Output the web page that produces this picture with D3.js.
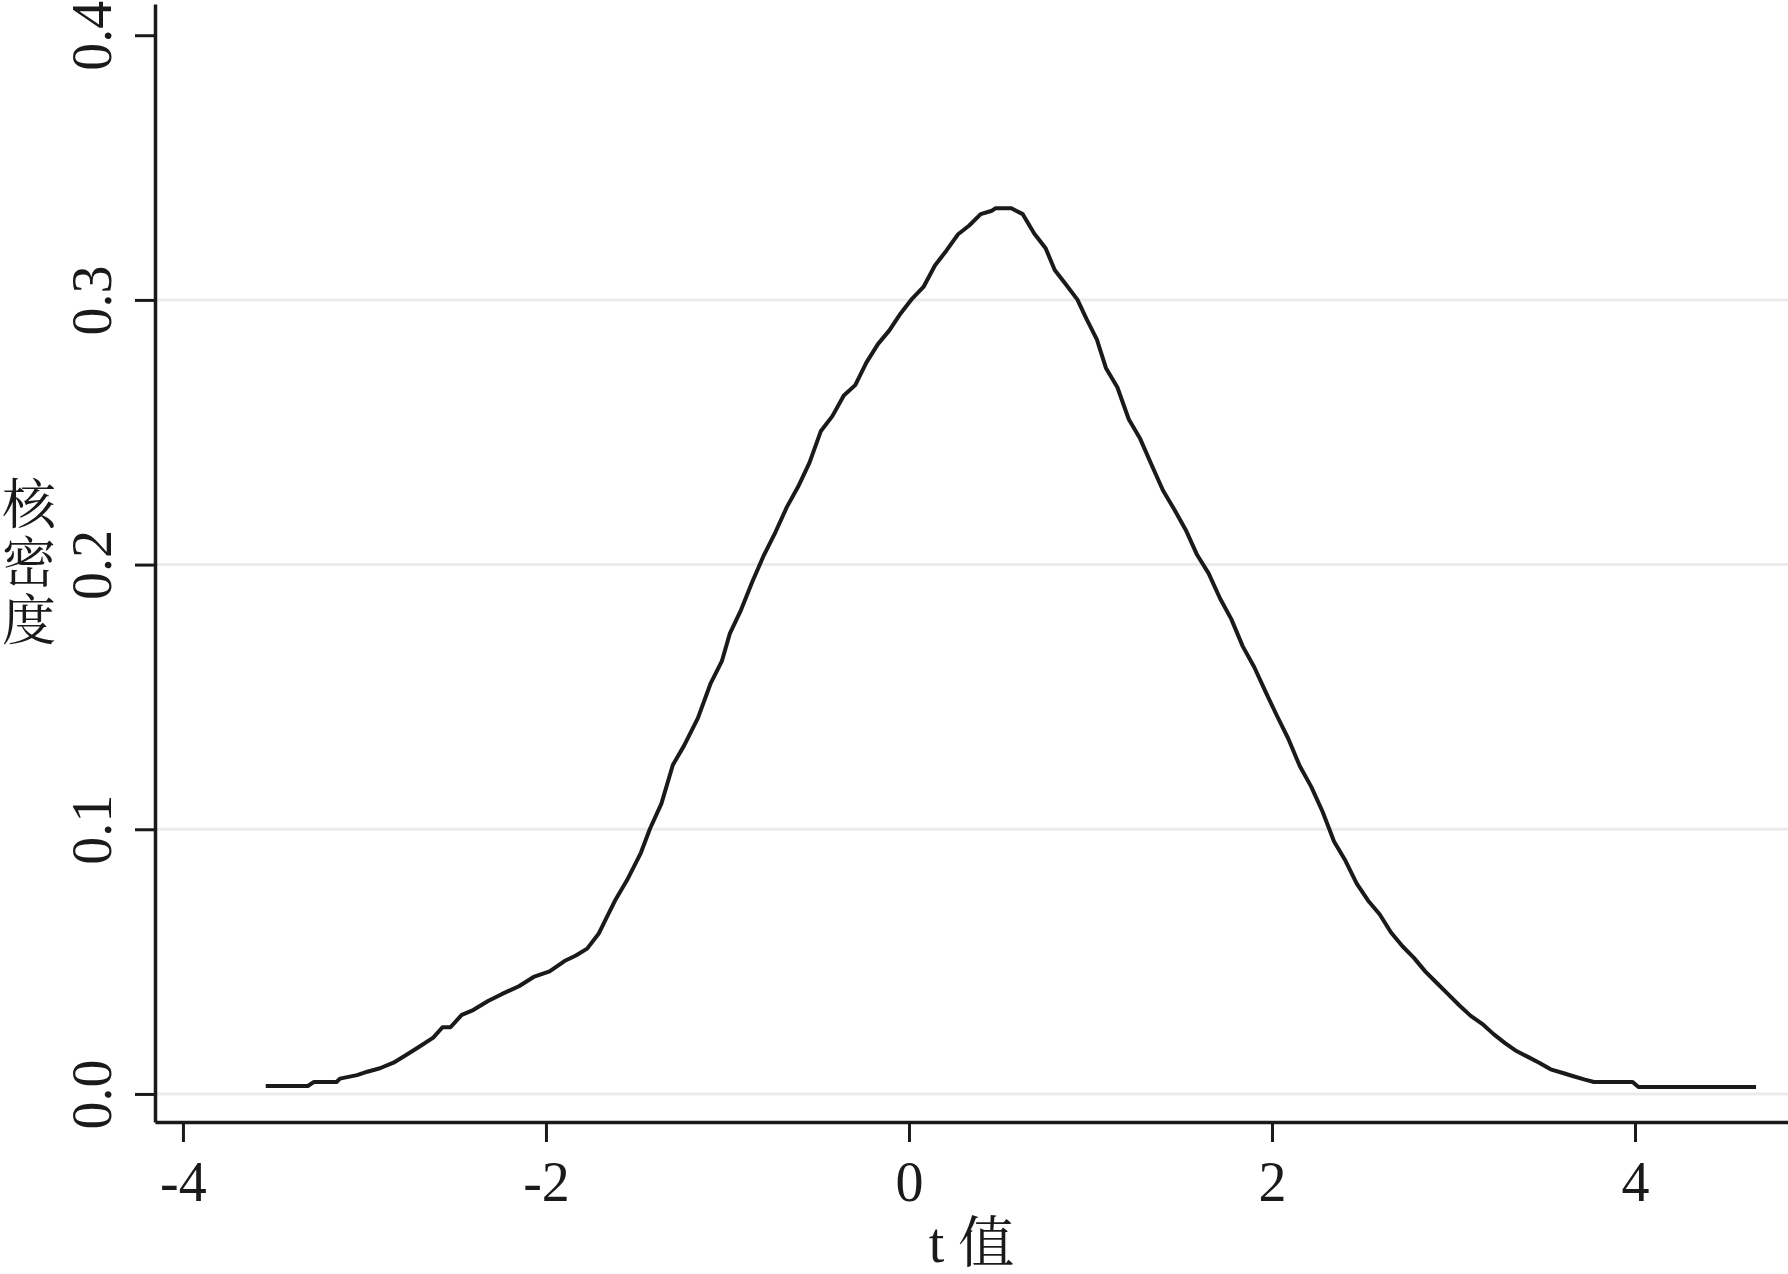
<!DOCTYPE html>
<html>
<head>
<meta charset="utf-8">
<script src="https://cdn.jsdelivr.net/npm/d3@7/dist/d3.min.js"></script>
<style>
  html, body { margin: 0; padding: 0; background: #ffffff; }
  svg { display: block; }
</style>
</head>
<body>
<script>
// ---- data ----
const tValues = [
  -3.544, -3.312, -3.280, -3.154, -3.135, -3.041, -2.984, -2.915, -2.840, -2.777,
  -2.696, -2.621, -2.570, -2.526, -2.464, -2.401, -2.319, -2.244, -2.149, -2.068,
  -1.980, -1.898, -1.835, -1.773, -1.710, -1.666, -1.616, -1.553, -1.477, -1.427,
  -1.364, -1.301, -1.239, -1.163, -1.094, -1.031, -0.987, -0.925, -0.862, -0.799,
  -0.736, -0.673, -0.611, -0.548, -0.485, -0.422, -0.359, -0.296, -0.234, -0.171,
  -0.108, -0.045, 0.018, 0.080, 0.143, 0.206, 0.269, 0.332, 0.395, 0.457,
  0.476, 0.564, 0.627, 0.690, 0.753, 0.803, 0.866, 0.928, 0.978, 1.035,
  1.085, 1.148, 1.211, 1.274, 1.337, 1.399, 1.462, 1.525, 1.588, 1.651,
  1.714, 1.776, 1.839, 1.902, 1.965, 2.028, 2.090, 2.153, 2.216, 2.279,
  2.342, 2.405, 2.467, 2.530, 2.593, 2.656, 2.719, 2.781, 2.844, 2.907,
  2.970, 3.033, 3.095, 3.158, 3.221, 3.284, 3.347, 3.410, 3.472, 3.535,
  3.598, 3.661, 3.724, 3.774, 3.987, 4.019, 4.667
];
const densityValues = [
  0.0030, 0.0030, 0.0045, 0.0045, 0.0058, 0.0071, 0.0084, 0.0097, 0.0118, 0.0144,
  0.0179, 0.0213, 0.0252, 0.0252, 0.0299, 0.0317, 0.0351, 0.0377, 0.0407, 0.0442,
  0.0463, 0.0502, 0.0523, 0.0549, 0.0605, 0.0666, 0.0735, 0.0808, 0.0911, 0.1002,
  0.1097, 0.1243, 0.1316, 0.1420, 0.1549, 0.1635, 0.1739, 0.1829, 0.1937, 0.2036,
  0.2122, 0.2217, 0.2294, 0.2385, 0.2505, 0.2561, 0.2639, 0.2678, 0.2764, 0.2833,
  0.2885, 0.2950, 0.3005, 0.3049, 0.3130, 0.3186, 0.3247, 0.3281, 0.3324, 0.3337,
  0.3346, 0.3346, 0.3324, 0.3251, 0.3195, 0.3113, 0.3057, 0.3001, 0.2928, 0.2851,
  0.2743, 0.2670, 0.2549, 0.2475, 0.2376, 0.2281, 0.2208, 0.2131, 0.2036, 0.1967,
  0.1872, 0.1794, 0.1691, 0.1613, 0.1519, 0.1428, 0.1342, 0.1239, 0.1161, 0.1066,
  0.0954, 0.0881, 0.0795, 0.0730, 0.0679, 0.0610, 0.0558, 0.0515, 0.0463, 0.0420,
  0.0377, 0.0334, 0.0295, 0.0265, 0.0226, 0.0192, 0.0162, 0.0140, 0.0118, 0.0093,
  0.0080, 0.0067, 0.0054, 0.0045, 0.0045, 0.0026, 0.0026
];
const xTicks = [-4, -2, 0, 2, 4];
const yTicks = [0.0, 0.1, 0.2, 0.3, 0.4];
const yGridTicks = [0.0, 0.1, 0.2, 0.3];
const xTitle = "t 值";
const yTitleChars = ["核", "密", "度"];

(function () {
  // ---- layout ----
  const W = 1788, H = 1274;
  const pLeft = 155, pRight = 1788, pTop = 4, pBottom = 1122;
  const ink = "#1a1a1a";
  const serif = "'Liberation Serif', 'Times New Roman', 'Noto Serif CJK SC', 'Noto Sans CJK SC', serif";

  const svg = d3.select("body").append("svg")
    .attr("width", W).attr("height", H);

  const x = d3.scaleLinear().domain([-4.154, 4.843]).range([pLeft, pRight]);
  const y = d3.scaleLinear().domain([-0.0106, 0.4118]).range([pBottom, pTop]);

  // gridlines
  svg.append("g").selectAll("line").data(yGridTicks).join("line")
    .attr("x1", pLeft).attr("x2", pRight)
    .attr("y1", d => y(d)).attr("y2", d => y(d))
    .attr("stroke", "#ebebeb").attr("stroke-width", 3);

  // curve
  const pts = tValues.map((t, i) => [t, densityValues[i]]);
  svg.append("path")
    .datum(pts)
    .attr("fill", "none")
    .attr("stroke", ink)
    .attr("stroke-width", 4)
    .attr("stroke-linejoin", "round")
    .attr("d", d3.line().x(d => x(d[0])).y(d => y(d[1])));

  // y axis
  const gy = svg.append("g").attr("transform", `translate(${pLeft},0)`)
    .call(d3.axisLeft(y).tickValues(yTicks).tickFormat(d3.format(".1f"))
      .tickSize(20).tickSizeOuter(0));
  gy.select(".domain").attr("stroke", ink).attr("stroke-width", 3.5);
  gy.selectAll(".tick line").attr("stroke", ink).attr("stroke-width", 3);
  gy.selectAll(".tick text")
    .attr("x", null).attr("dy", null)
    .attr("text-anchor", "middle")
    .attr("transform", "translate(-44,0) rotate(-90)")
    .attr("fill", ink)
    .style("font-family", serif).style("font-size", "56px");

  // x axis
  const gx = svg.append("g").attr("transform", `translate(0,${pBottom})`)
    .call(d3.axisBottom(x).tickValues(xTicks).tickFormat(d => String(d))
      .tickSize(20).tickSizeOuter(0));
  gx.select(".domain").attr("stroke", ink).attr("stroke-width", 3.5);
  gx.selectAll(".tick line").attr("stroke", ink).attr("stroke-width", 3);
  gx.selectAll(".tick text")
    .attr("y", 79).attr("dy", null)
    .attr("fill", ink)
    .style("font-family", serif).style("font-size", "56px");

  // x title
  svg.append("text")
    .attr("x", (pLeft + pRight) / 2).attr("y", 1262)
    .attr("text-anchor", "middle")
    .attr("fill", ink)
    .style("font-family", serif).style("font-size", "56px")
    .text(xTitle);

  // y title (stacked characters)
  const yt = svg.append("text")
    .attr("text-anchor", "middle")
    .attr("fill", ink)
    .style("font-family", serif).style("font-size", "54px");
  yTitleChars.forEach((c, i) => {
    yt.append("tspan")
      .attr("x", 29)
      .attr("y", (pTop + pBottom) / 2 - 58 + i * 58 + 19)
      .text(c);
  });
})();
</script>
</body>
</html>
